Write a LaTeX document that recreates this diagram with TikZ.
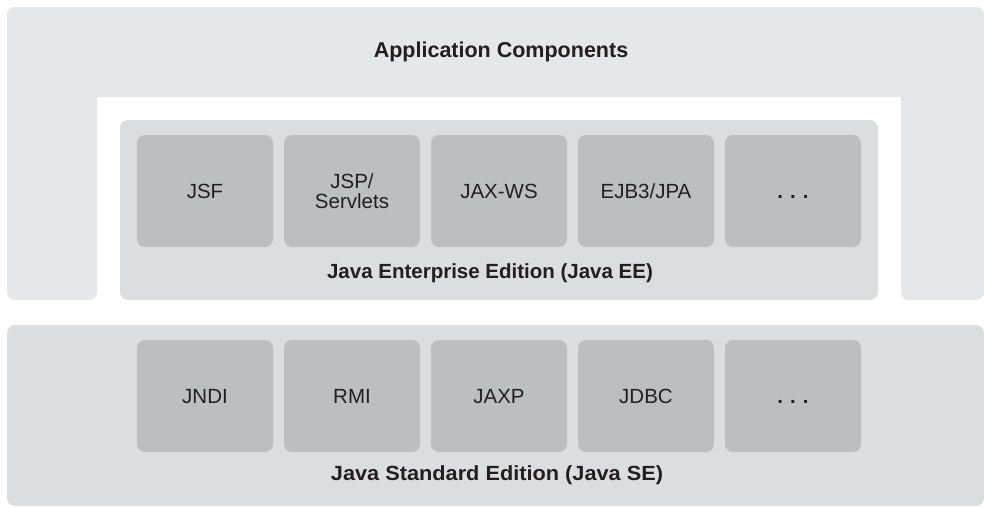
\documentclass[tikz,border=0pt]{standalone}
\usepackage{fontspec}
\setmainfont{Liberation Sans}
\definecolor{outergray}{HTML}{E6E7E8}
\definecolor{boxgray}{HTML}{DCDDDE}
\definecolor{compgray}{HTML}{BCBEC0}
\definecolor{ink}{HTML}{231F20}
\begin{document}
\begin{tikzpicture}[x=1pt,y=-1pt,
  comp/.style={fill=compgray, rounded corners=8pt, minimum width=136pt, minimum height=112pt, inner sep=0pt, text=ink, font=\fontsize{20.5}{21}\selectfont, text height=14.7pt, text depth=0pt},
  comptwo/.style={comp, align=center, text height=, text depth=},
  lbl/.style={text=ink, font=\fontsize{20.5}{22}\selectfont\bfseries, inner sep=0pt, text height=14.7pt, text depth=0pt},
  band/.style={rounded corners=8pt}]
\useasboundingbox (0,0) rectangle (984,507);
% Application Components frame
\fill[outergray, band] (7,7) rectangle (97,300);
\fill[outergray, band] (901,7) rectangle (984,300);
\fill[outergray, band] (7,7) rectangle (984,97);
\node[lbl, font=\fontsize{21.5}{24}\selectfont\bfseries, text height=15.4pt] (app) at (501,50) {Application Components};
% Java EE
\fill[boxgray, band] (120,120) rectangle (878,300);
\node[comp] (jsf) at (205,191) {JSF};
\node[comptwo] (jsp) at (352,191) {JSP/\\[-1pt]Servlets};
\node[comp] (jaxws) at (499,191) {JAX-WS};
\node[comp] (ejb) at (646,191) {EJB3/JPA};
\node[comp] (eedots) at (793,191) {\textbf{.\hspace{7pt}.\hspace{7pt}.}};
\node[lbl] (ee) at (490,271) {Java Enterprise Edition (Java EE)};
% Java SE
\fill[boxgray, band] (7,325) rectangle (984,506);
\node[comp] (jndi) at (205,396) {JNDI};
\node[comp] (rmi) at (352,396) {RMI};
\node[comp] (jaxp) at (499,396) {JAXP};
\node[comp] (jdbc) at (646,396) {JDBC};
\node[comp] (sedots) at (793,396) {\textbf{.\hspace{7pt}.\hspace{7pt}.}};
\node[lbl] (se) at (497,473) {\scalebox{1.06}[1]{Java Standard Edition (Java SE)}};
\end{tikzpicture}
\end{document}
